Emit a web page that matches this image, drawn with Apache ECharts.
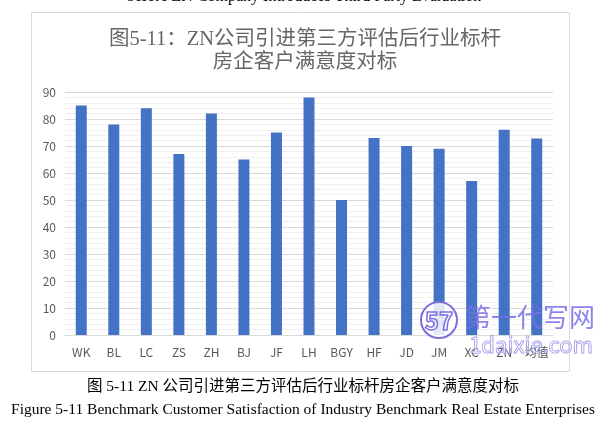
<!DOCTYPE html>
<html><head><meta charset="utf-8">
<script src="https://cdn.jsdelivr.net/npm/echarts@6/dist/echarts.min.js"></script>
<style>html,body{margin:0;padding:0;background:#fff}#c{width:613px;height:428px}</style>
</head><body><div id="c"></div>
<script>
const categories = ['WK','BL','LC','ZS','ZH','BJ','JF','LH','BGY','HF','JD','JM','XC','ZN','均值'];
const satisfaction = [85,78,84,67,82,65,75,88,50,73,70,69,57,76,72.8];
const yTicks = {min:0, max:90, interval:10};
const chartTitle = '图5-11：ZN公司引进第三方评估后行业标杆\n房企客户满意度对标';
const topText = 'before ZN Company Introduces Third Party Evaluation';
const captionCn = '图 5-11 ZN 公司引进第三方评估后行业标杆房企客户满意度对标';
const captionEn = 'Figure 5-11 Benchmark Customer Satisfaction of Industry Benchmark Real Estate Enterprises';

const serif = '"Liberation Serif","Times New Roman","Noto Sans CJK SC",serif';
const sans = '"Noto Sans CJK SC","Noto Sans",sans-serif';
const chart = echarts.init(document.getElementById('c'), null, {renderer:'canvas'});
chart.setOption({
  animation:false,
  backgroundColor:'#fff',
  title:{
    text:chartTitle, left:300, top:23, textAlign:'center',
    textStyle:{fontSize:20.5, fontWeight:'normal', color:'#666666', lineHeight:23,
      fontFamily:'"Liberation Serif","Noto Sans CJK SC",serif'}
  },
  grid:{left:65, right:60, top:92, bottom:93},
  xAxis:{
    type:'category', data:categories,
    axisLine:{show:true, lineStyle:{color:'#d9d9d9', width:1}},
    axisTick:{show:false},
    axisLabel:{color:'#595959', fontSize:12, margin:11, fontFamily:sans}
  },
  yAxis:{
    type:'value', min:yTicks.min, max:yTicks.max, interval:yTicks.interval,
    axisLine:{show:false}, axisTick:{show:false},
    axisLabel:{color:'#595959', fontSize:12, margin:9, fontFamily:sans},
    splitLine:{lineStyle:{color:'#d9d9d9', width:1}},
    minorTick:{show:false, splitNumber:5},
    minorSplitLine:{show:true, lineStyle:{color:'#f0f0f0', width:1}}
  },
  series:[{
    type:'bar', data:satisfaction, barWidth:11,
    itemStyle:{color:'#4472C4'}
  }],
  graphic:[
    {type:'rect', shape:{x:31.5, y:12.5, width:538, height:359}, style:{fill:'none', stroke:'#d9d9d9', lineWidth:1}, z:-1},
    {type:'text', x:304, y:-3, style:{text:topText, font:'16px '+serif, fill:'#000', textAlign:'center', textVerticalAlign:'middle'}},
    {type:'text', x:303, y:387, style:{text:captionCn, font:'15.5px '+serif, fill:'#000', textAlign:'center', textVerticalAlign:'middle'}},
    {type:'text', x:303, y:410, style:{text:captionEn, font:'15.5px '+serif, fill:'#000', textAlign:'center', textVerticalAlign:'middle'}},
    {type:'circle', shape:{cx:439, cy:320, r:18}, style:{fill:'rgba(255,255,255,0.85)', stroke:'#7b6fe0', lineWidth:2}, z:10},
    {type:'text', x:439, y:321, style:{text:'57', font:'bold 24px '+sans, fill:'none', stroke:'#7b6fe0', lineWidth:1.5, textAlign:'center', textVerticalAlign:'middle'}, z:11},
    {type:'text', x:530, y:317, style:{text:'第一代写网', font:'26px '+sans, fill:'rgba(120,110,230,0.85)', textAlign:'center', textVerticalAlign:'middle'}, z:10},
    {type:'text', x:531, y:345, style:{text:'1daixie.com', font:'22px '+sans, fill:'rgba(255,255,255,0.5)', stroke:'rgba(120,110,230,0.85)', lineWidth:1, textAlign:'center', textVerticalAlign:'middle'}, z:10}
  ]
});
</script></body></html>
